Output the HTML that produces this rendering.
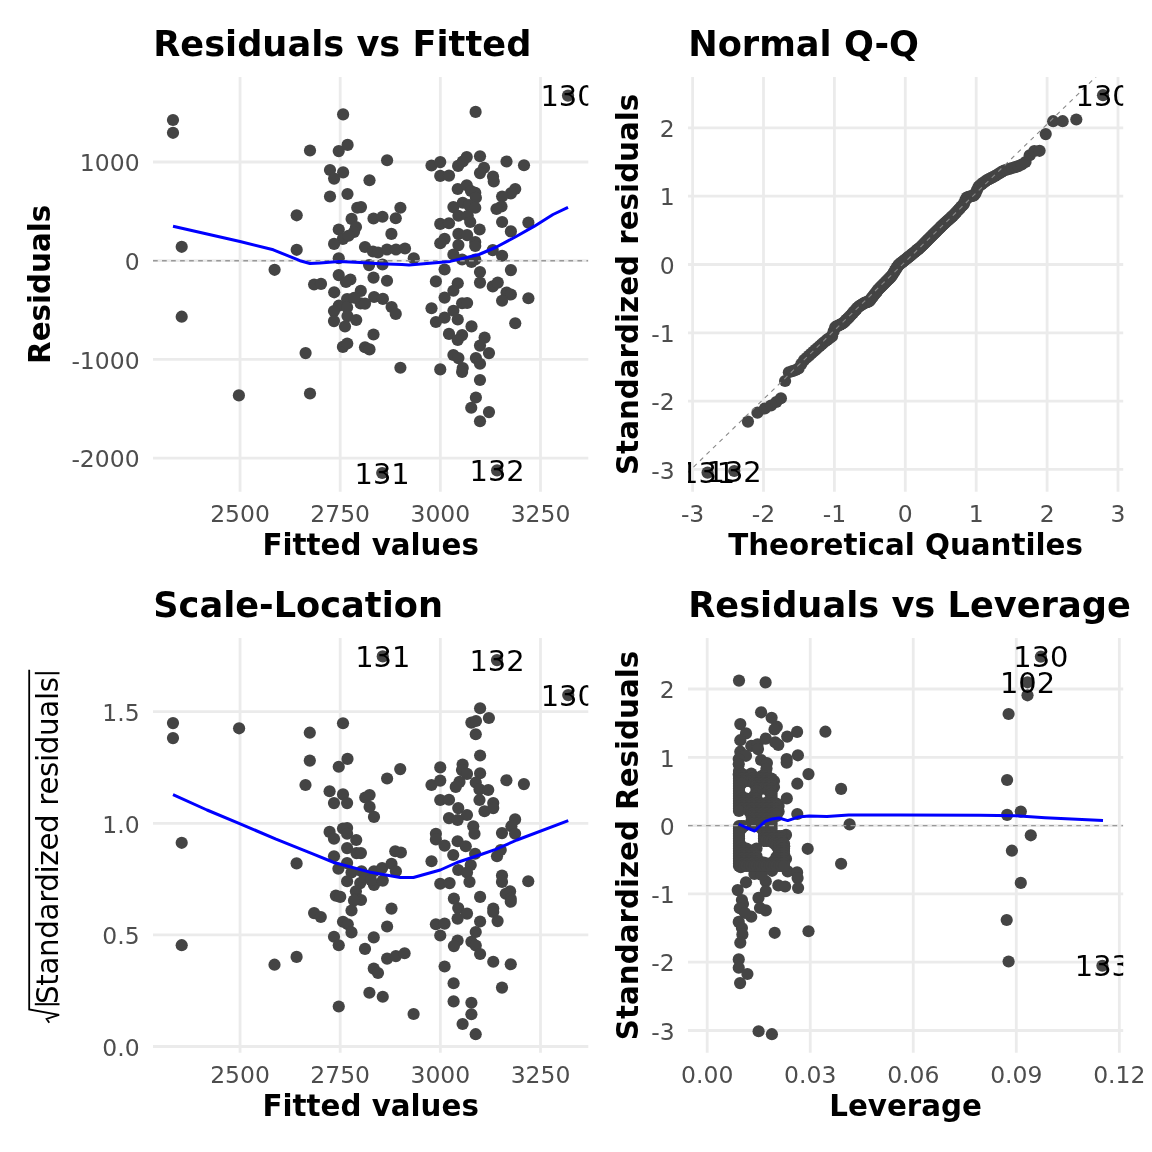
<!DOCTYPE html><html><head><meta charset="utf-8"><style>html,body{margin:0;padding:0;background:#fff}svg{display:block}</style></head><body><svg width="1152" height="1152" viewBox="0 0 1152 1152"><rect width="1152" height="1152" fill="#fff"/><clipPath id="c1"><rect x="153.0" y="77.0" width="435.29999999999995" height="414.7"/></clipPath>
<line x1="240.05" y1="77.0" x2="240.05" y2="491.7" stroke="#ebebeb" stroke-width="2.8"/>
<line x1="340.20" y1="77.0" x2="340.20" y2="491.7" stroke="#ebebeb" stroke-width="2.8"/>
<line x1="440.35" y1="77.0" x2="440.35" y2="491.7" stroke="#ebebeb" stroke-width="2.8"/>
<line x1="540.50" y1="77.0" x2="540.50" y2="491.7" stroke="#ebebeb" stroke-width="2.8"/>
<line x1="153.0" y1="162.00" x2="588.3" y2="162.00" stroke="#ebebeb" stroke-width="2.8"/>
<line x1="153.0" y1="260.70" x2="588.3" y2="260.70" stroke="#ebebeb" stroke-width="2.8"/>
<line x1="153.0" y1="359.40" x2="588.3" y2="359.40" stroke="#ebebeb" stroke-width="2.8"/>
<line x1="153.0" y1="458.10" x2="588.3" y2="458.10" stroke="#ebebeb" stroke-width="2.8"/>
<text x="240.05" y="521.90" font-family="DejaVu Sans, sans-serif" font-size="23.47" fill="#4d4d4d" text-anchor="middle">2500</text>
<text x="340.20" y="521.90" font-family="DejaVu Sans, sans-serif" font-size="23.47" fill="#4d4d4d" text-anchor="middle">2750</text>
<text x="440.35" y="521.90" font-family="DejaVu Sans, sans-serif" font-size="23.47" fill="#4d4d4d" text-anchor="middle">3000</text>
<text x="540.50" y="521.90" font-family="DejaVu Sans, sans-serif" font-size="23.47" fill="#4d4d4d" text-anchor="middle">3250</text>
<text x="139.60" y="171.20" font-family="DejaVu Sans, sans-serif" font-size="23.47" fill="#4d4d4d" text-anchor="end">1000</text>
<text x="139.60" y="269.90" font-family="DejaVu Sans, sans-serif" font-size="23.47" fill="#4d4d4d" text-anchor="end">0</text>
<text x="139.60" y="368.60" font-family="DejaVu Sans, sans-serif" font-size="23.47" fill="#4d4d4d" text-anchor="end">-1000</text>
<text x="139.60" y="467.30" font-family="DejaVu Sans, sans-serif" font-size="23.47" fill="#4d4d4d" text-anchor="end">-2000</text>
<text x="153.20" y="55.80" font-family="DejaVu Sans, sans-serif" font-weight="bold" font-size="35.2">Residuals vs Fitted</text>
<text x="370.65" y="555.00" font-family="DejaVu Sans, sans-serif" font-weight="bold" font-size="29.33" text-anchor="middle">Fitted values</text>
<text transform="translate(50.20,284.35) rotate(-90)" font-family="DejaVu Sans, sans-serif" font-weight="bold" font-size="29.33" text-anchor="middle">Residuals</text>
<g clip-path="url(#c1)" fill="#444444">
<circle cx="173.00" cy="120.00" r="6.1"/>
<circle cx="173.00" cy="132.80" r="6.1"/>
<circle cx="181.70" cy="246.80" r="6.1"/>
<circle cx="274.60" cy="269.80" r="6.1"/>
<circle cx="296.70" cy="215.30" r="6.1"/>
<circle cx="296.70" cy="249.80" r="6.1"/>
<circle cx="343.10" cy="114.40" r="6.1"/>
<circle cx="310.00" cy="150.50" r="6.1"/>
<circle cx="338.75" cy="151.10" r="6.1"/>
<circle cx="347.60" cy="144.90" r="6.1"/>
<circle cx="387.10" cy="160.25" r="6.1"/>
<circle cx="330.00" cy="170.00" r="6.1"/>
<circle cx="343.10" cy="172.40" r="6.1"/>
<circle cx="334.10" cy="178.60" r="6.1"/>
<circle cx="369.50" cy="180.25" r="6.1"/>
<circle cx="330.00" cy="196.50" r="6.1"/>
<circle cx="347.50" cy="194.00" r="6.1"/>
<circle cx="357.25" cy="207.75" r="6.1"/>
<circle cx="361.00" cy="207.10" r="6.1"/>
<circle cx="400.40" cy="207.75" r="6.1"/>
<circle cx="351.60" cy="218.90" r="6.1"/>
<circle cx="356.00" cy="227.00" r="6.1"/>
<circle cx="354.00" cy="232.00" r="6.1"/>
<circle cx="338.75" cy="229.50" r="6.1"/>
<circle cx="342.90" cy="238.90" r="6.1"/>
<circle cx="334.10" cy="243.90" r="6.1"/>
<circle cx="373.50" cy="218.50" r="6.1"/>
<circle cx="382.50" cy="216.75" r="6.1"/>
<circle cx="395.75" cy="218.25" r="6.1"/>
<circle cx="391.40" cy="233.90" r="6.1"/>
<circle cx="365.00" cy="247.00" r="6.1"/>
<circle cx="373.00" cy="251.50" r="6.1"/>
<circle cx="378.00" cy="252.50" r="6.1"/>
<circle cx="387.00" cy="249.50" r="6.1"/>
<circle cx="396.00" cy="249.50" r="6.1"/>
<circle cx="405.00" cy="248.50" r="6.1"/>
<circle cx="413.75" cy="258.25" r="6.1"/>
<circle cx="338.75" cy="258.25" r="6.1"/>
<circle cx="369.10" cy="265.10" r="6.1"/>
<circle cx="382.50" cy="264.50" r="6.1"/>
<circle cx="338.75" cy="275.10" r="6.1"/>
<circle cx="350.40" cy="279.50" r="6.1"/>
<circle cx="346.00" cy="282.00" r="6.1"/>
<circle cx="314.10" cy="284.50" r="6.1"/>
<circle cx="321.00" cy="283.90" r="6.1"/>
<circle cx="373.50" cy="277.60" r="6.1"/>
<circle cx="387.00" cy="280.75" r="6.1"/>
<circle cx="334.20" cy="292.30" r="6.1"/>
<circle cx="360.80" cy="290.90" r="6.1"/>
<circle cx="374.10" cy="297.00" r="6.1"/>
<circle cx="382.90" cy="298.90" r="6.1"/>
<circle cx="391.60" cy="307.00" r="6.1"/>
<circle cx="395.75" cy="313.90" r="6.1"/>
<circle cx="347.10" cy="299.00" r="6.1"/>
<circle cx="338.75" cy="305.70" r="6.1"/>
<circle cx="334.00" cy="311.00" r="6.1"/>
<circle cx="347.10" cy="307.30" r="6.1"/>
<circle cx="360.60" cy="303.40" r="6.1"/>
<circle cx="365.00" cy="303.60" r="6.1"/>
<circle cx="347.50" cy="316.10" r="6.1"/>
<circle cx="334.00" cy="321.10" r="6.1"/>
<circle cx="356.25" cy="320.00" r="6.1"/>
<circle cx="345.00" cy="326.50" r="6.1"/>
<circle cx="373.50" cy="334.50" r="6.1"/>
<circle cx="305.60" cy="353.10" r="6.1"/>
<circle cx="342.90" cy="346.90" r="6.1"/>
<circle cx="347.25" cy="343.50" r="6.1"/>
<circle cx="365.00" cy="347.25" r="6.1"/>
<circle cx="369.50" cy="349.40" r="6.1"/>
<circle cx="400.40" cy="367.75" r="6.1"/>
<circle cx="310.00" cy="393.50" r="6.1"/>
<circle cx="475.60" cy="111.90" r="6.1"/>
<circle cx="431.50" cy="165.50" r="6.1"/>
<circle cx="440.25" cy="162.10" r="6.1"/>
<circle cx="440.25" cy="175.90" r="6.1"/>
<circle cx="449.00" cy="175.60" r="6.1"/>
<circle cx="458.10" cy="165.90" r="6.1"/>
<circle cx="462.75" cy="161.50" r="6.1"/>
<circle cx="466.75" cy="157.10" r="6.1"/>
<circle cx="480.00" cy="156.25" r="6.1"/>
<circle cx="484.00" cy="167.75" r="6.1"/>
<circle cx="480.00" cy="173.10" r="6.1"/>
<circle cx="493.00" cy="176.50" r="6.1"/>
<circle cx="493.75" cy="181.50" r="6.1"/>
<circle cx="506.50" cy="161.50" r="6.1"/>
<circle cx="524.00" cy="165.25" r="6.1"/>
<circle cx="457.75" cy="189.00" r="6.1"/>
<circle cx="466.75" cy="185.25" r="6.1"/>
<circle cx="471.00" cy="191.00" r="6.1"/>
<circle cx="475.25" cy="192.75" r="6.1"/>
<circle cx="475.90" cy="197.75" r="6.1"/>
<circle cx="515.25" cy="189.00" r="6.1"/>
<circle cx="510.90" cy="193.40" r="6.1"/>
<circle cx="502.10" cy="196.50" r="6.1"/>
<circle cx="501.50" cy="206.50" r="6.1"/>
<circle cx="496.50" cy="209.00" r="6.1"/>
<circle cx="453.40" cy="207.10" r="6.1"/>
<circle cx="462.75" cy="202.75" r="6.1"/>
<circle cx="469.00" cy="205.00" r="6.1"/>
<circle cx="475.25" cy="207.75" r="6.1"/>
<circle cx="458.40" cy="215.75" r="6.1"/>
<circle cx="467.75" cy="215.75" r="6.1"/>
<circle cx="470.25" cy="222.00" r="6.1"/>
<circle cx="440.25" cy="223.90" r="6.1"/>
<circle cx="449.00" cy="223.25" r="6.1"/>
<circle cx="479.60" cy="229.50" r="6.1"/>
<circle cx="502.10" cy="222.00" r="6.1"/>
<circle cx="510.90" cy="231.40" r="6.1"/>
<circle cx="528.40" cy="222.60" r="6.1"/>
<circle cx="444.60" cy="238.90" r="6.1"/>
<circle cx="440.25" cy="243.25" r="6.1"/>
<circle cx="458.40" cy="233.90" r="6.1"/>
<circle cx="467.10" cy="235.10" r="6.1"/>
<circle cx="475.25" cy="242.00" r="6.1"/>
<circle cx="458.40" cy="245.10" r="6.1"/>
<circle cx="453.40" cy="254.50" r="6.1"/>
<circle cx="462.10" cy="259.50" r="6.1"/>
<circle cx="471.50" cy="262.00" r="6.1"/>
<circle cx="475.25" cy="259.50" r="6.1"/>
<circle cx="492.75" cy="250.10" r="6.1"/>
<circle cx="502.10" cy="255.75" r="6.1"/>
<circle cx="444.60" cy="269.50" r="6.1"/>
<circle cx="480.00" cy="272.00" r="6.1"/>
<circle cx="480.00" cy="282.60" r="6.1"/>
<circle cx="510.90" cy="270.10" r="6.1"/>
<circle cx="435.90" cy="281.40" r="6.1"/>
<circle cx="457.75" cy="283.25" r="6.1"/>
<circle cx="453.40" cy="290.75" r="6.1"/>
<circle cx="444.60" cy="297.60" r="6.1"/>
<circle cx="431.50" cy="308.25" r="6.1"/>
<circle cx="492.75" cy="286.40" r="6.1"/>
<circle cx="497.75" cy="282.60" r="6.1"/>
<circle cx="506.50" cy="292.60" r="6.1"/>
<circle cx="510.90" cy="294.50" r="6.1"/>
<circle cx="502.10" cy="300.75" r="6.1"/>
<circle cx="528.40" cy="298.25" r="6.1"/>
<circle cx="462.10" cy="303.25" r="6.1"/>
<circle cx="467.10" cy="303.00" r="6.1"/>
<circle cx="453.40" cy="310.75" r="6.1"/>
<circle cx="444.60" cy="317.60" r="6.1"/>
<circle cx="435.90" cy="322.00" r="6.1"/>
<circle cx="457.75" cy="319.50" r="6.1"/>
<circle cx="471.50" cy="326.40" r="6.1"/>
<circle cx="515.25" cy="323.25" r="6.1"/>
<circle cx="449.00" cy="333.90" r="6.1"/>
<circle cx="462.10" cy="335.10" r="6.1"/>
<circle cx="484.60" cy="337.60" r="6.1"/>
<circle cx="457.75" cy="340.00" r="6.1"/>
<circle cx="480.00" cy="345.60" r="6.1"/>
<circle cx="489.00" cy="353.10" r="6.1"/>
<circle cx="453.40" cy="355.00" r="6.1"/>
<circle cx="458.40" cy="358.10" r="6.1"/>
<circle cx="475.90" cy="358.10" r="6.1"/>
<circle cx="480.00" cy="363.75" r="6.1"/>
<circle cx="440.25" cy="369.40" r="6.1"/>
<circle cx="462.75" cy="368.10" r="6.1"/>
<circle cx="462.10" cy="371.90" r="6.1"/>
<circle cx="480.00" cy="380.00" r="6.1"/>
<circle cx="475.90" cy="397.50" r="6.1"/>
<circle cx="471.25" cy="407.75" r="6.1"/>
<circle cx="489.00" cy="412.10" r="6.1"/>
<circle cx="480.00" cy="421.25" r="6.1"/>
<circle cx="568.00" cy="95.60" r="6.1"/>
<circle cx="181.70" cy="316.70" r="6.1"/>
<circle cx="238.90" cy="395.40" r="6.1"/>
<circle cx="382.20" cy="473.00" r="6.1"/>
<circle cx="497.10" cy="470.40" r="6.1"/>
<circle cx="354.20" cy="297.75" r="6.1"/>
<circle cx="348.50" cy="235.75" r="6.1"/>
<circle cx="475.25" cy="246.00" r="6.1"/>
</g>
<line clip-path="url(#c1)" x1="153.00" y1="260.70" x2="588.30" y2="260.70" stroke="#999999" stroke-width="1.4" stroke-dasharray="4.7 4.33" stroke-dashoffset="0"/>
<polyline clip-path="url(#c1)" points="173.00,226.20 240.00,241.50 273.30,249.80 300.00,260.70 310.00,263.50 320.00,263.00 339.00,261.40 360.00,262.50 380.00,263.80 402.00,264.50 409.00,265.10 450.25,261.40 479.00,254.50 496.50,247.00 515.25,237.00 534.00,226.40 553.00,214.50 568.00,207.30" fill="none" stroke="#0000ff" stroke-width="3.0" stroke-linejoin="round"/>
<g clip-path="url(#c1)">
<text x="568.00" y="106.10" font-family="DejaVu Sans, sans-serif" font-size="28.9" text-anchor="middle">130</text>
<text x="382.20" y="483.50" font-family="DejaVu Sans, sans-serif" font-size="28.9" text-anchor="middle">131</text>
<text x="497.10" y="480.90" font-family="DejaVu Sans, sans-serif" font-size="28.9" text-anchor="middle">132</text>
</g>
<clipPath id="c2"><rect x="688.0" y="77.0" width="435.20000000000005" height="414.7"/></clipPath>
<line x1="692.60" y1="77.0" x2="692.60" y2="491.7" stroke="#ebebeb" stroke-width="2.8"/>
<line x1="763.50" y1="77.0" x2="763.50" y2="491.7" stroke="#ebebeb" stroke-width="2.8"/>
<line x1="834.40" y1="77.0" x2="834.40" y2="491.7" stroke="#ebebeb" stroke-width="2.8"/>
<line x1="905.30" y1="77.0" x2="905.30" y2="491.7" stroke="#ebebeb" stroke-width="2.8"/>
<line x1="976.20" y1="77.0" x2="976.20" y2="491.7" stroke="#ebebeb" stroke-width="2.8"/>
<line x1="1047.10" y1="77.0" x2="1047.10" y2="491.7" stroke="#ebebeb" stroke-width="2.8"/>
<line x1="1118.00" y1="77.0" x2="1118.00" y2="491.7" stroke="#ebebeb" stroke-width="2.8"/>
<line x1="688.0" y1="127.90" x2="1123.2" y2="127.90" stroke="#ebebeb" stroke-width="2.8"/>
<line x1="688.0" y1="196.20" x2="1123.2" y2="196.20" stroke="#ebebeb" stroke-width="2.8"/>
<line x1="688.0" y1="264.50" x2="1123.2" y2="264.50" stroke="#ebebeb" stroke-width="2.8"/>
<line x1="688.0" y1="332.80" x2="1123.2" y2="332.80" stroke="#ebebeb" stroke-width="2.8"/>
<line x1="688.0" y1="401.10" x2="1123.2" y2="401.10" stroke="#ebebeb" stroke-width="2.8"/>
<line x1="688.0" y1="469.40" x2="1123.2" y2="469.40" stroke="#ebebeb" stroke-width="2.8"/>
<text x="692.60" y="521.90" font-family="DejaVu Sans, sans-serif" font-size="23.47" fill="#4d4d4d" text-anchor="middle">-3</text>
<text x="763.50" y="521.90" font-family="DejaVu Sans, sans-serif" font-size="23.47" fill="#4d4d4d" text-anchor="middle">-2</text>
<text x="834.40" y="521.90" font-family="DejaVu Sans, sans-serif" font-size="23.47" fill="#4d4d4d" text-anchor="middle">-1</text>
<text x="905.30" y="521.90" font-family="DejaVu Sans, sans-serif" font-size="23.47" fill="#4d4d4d" text-anchor="middle">0</text>
<text x="976.20" y="521.90" font-family="DejaVu Sans, sans-serif" font-size="23.47" fill="#4d4d4d" text-anchor="middle">1</text>
<text x="1047.10" y="521.90" font-family="DejaVu Sans, sans-serif" font-size="23.47" fill="#4d4d4d" text-anchor="middle">2</text>
<text x="1118.00" y="521.90" font-family="DejaVu Sans, sans-serif" font-size="23.47" fill="#4d4d4d" text-anchor="middle">3</text>
<text x="674.60" y="137.10" font-family="DejaVu Sans, sans-serif" font-size="23.47" fill="#4d4d4d" text-anchor="end">2</text>
<text x="674.60" y="205.40" font-family="DejaVu Sans, sans-serif" font-size="23.47" fill="#4d4d4d" text-anchor="end">1</text>
<text x="674.60" y="273.70" font-family="DejaVu Sans, sans-serif" font-size="23.47" fill="#4d4d4d" text-anchor="end">0</text>
<text x="674.60" y="342.00" font-family="DejaVu Sans, sans-serif" font-size="23.47" fill="#4d4d4d" text-anchor="end">-1</text>
<text x="674.60" y="410.30" font-family="DejaVu Sans, sans-serif" font-size="23.47" fill="#4d4d4d" text-anchor="end">-2</text>
<text x="674.60" y="478.60" font-family="DejaVu Sans, sans-serif" font-size="23.47" fill="#4d4d4d" text-anchor="end">-3</text>
<text x="688.20" y="55.80" font-family="DejaVu Sans, sans-serif" font-weight="bold" font-size="35.2">Normal Q-Q</text>
<text x="905.60" y="555.00" font-family="DejaVu Sans, sans-serif" font-weight="bold" font-size="29.33" text-anchor="middle">Theoretical Quantiles</text>
<text transform="translate(637.80,284.35) rotate(-90)" font-family="DejaVu Sans, sans-serif" font-weight="bold" font-size="29.33" text-anchor="middle">Standardized residuals</text>
<g clip-path="url(#c2)" fill="#444444">
<circle cx="707.58" cy="472.60" r="6.1"/>
<circle cx="734.30" cy="471.00" r="6.1"/>
<circle cx="747.94" cy="421.60" r="6.1"/>
<circle cx="757.45" cy="412.70" r="6.1"/>
<circle cx="764.86" cy="408.50" r="6.1"/>
<circle cx="771.00" cy="405.50" r="6.1"/>
<circle cx="776.27" cy="402.00" r="6.1"/>
<circle cx="780.91" cy="398.30" r="6.1"/>
<circle cx="785.08" cy="381.00" r="6.1"/>
<circle cx="788.86" cy="372.26" r="6.1"/>
<circle cx="792.34" cy="371.11" r="6.1"/>
<circle cx="795.57" cy="370.04" r="6.1"/>
<circle cx="798.58" cy="368.42" r="6.1"/>
<circle cx="801.41" cy="363.85" r="6.1"/>
<circle cx="804.09" cy="360.08" r="6.1"/>
<circle cx="806.63" cy="357.79" r="6.1"/>
<circle cx="809.05" cy="355.60" r="6.1"/>
<circle cx="811.36" cy="353.51" r="6.1"/>
<circle cx="813.58" cy="351.51" r="6.1"/>
<circle cx="815.71" cy="349.60" r="6.1"/>
<circle cx="817.76" cy="347.79" r="6.1"/>
<circle cx="819.74" cy="346.04" r="6.1"/>
<circle cx="821.65" cy="344.35" r="6.1"/>
<circle cx="823.51" cy="342.71" r="6.1"/>
<circle cx="825.31" cy="341.25" r="6.1"/>
<circle cx="827.07" cy="339.92" r="6.1"/>
<circle cx="828.77" cy="338.63" r="6.1"/>
<circle cx="830.44" cy="337.37" r="6.1"/>
<circle cx="832.06" cy="336.14" r="6.1"/>
<circle cx="833.64" cy="331.28" r="6.1"/>
<circle cx="835.19" cy="327.20" r="6.1"/>
<circle cx="836.71" cy="326.43" r="6.1"/>
<circle cx="838.20" cy="325.68" r="6.1"/>
<circle cx="839.65" cy="324.94" r="6.1"/>
<circle cx="841.08" cy="324.22" r="6.1"/>
<circle cx="842.49" cy="323.51" r="6.1"/>
<circle cx="843.87" cy="322.33" r="6.1"/>
<circle cx="845.23" cy="320.97" r="6.1"/>
<circle cx="846.56" cy="319.64" r="6.1"/>
<circle cx="847.88" cy="318.32" r="6.1"/>
<circle cx="849.17" cy="317.03" r="6.1"/>
<circle cx="850.45" cy="315.72" r="6.1"/>
<circle cx="851.71" cy="314.31" r="6.1"/>
<circle cx="852.95" cy="312.92" r="6.1"/>
<circle cx="854.18" cy="311.54" r="6.1"/>
<circle cx="855.39" cy="310.18" r="6.1"/>
<circle cx="856.59" cy="308.84" r="6.1"/>
<circle cx="857.77" cy="307.51" r="6.1"/>
<circle cx="858.94" cy="306.42" r="6.1"/>
<circle cx="860.10" cy="305.70" r="6.1"/>
<circle cx="861.25" cy="304.98" r="6.1"/>
<circle cx="862.38" cy="304.27" r="6.1"/>
<circle cx="863.51" cy="303.56" r="6.1"/>
<circle cx="864.62" cy="302.86" r="6.1"/>
<circle cx="865.72" cy="302.36" r="6.1"/>
<circle cx="866.82" cy="302.07" r="6.1"/>
<circle cx="867.90" cy="301.79" r="6.1"/>
<circle cx="868.98" cy="301.51" r="6.1"/>
<circle cx="870.05" cy="300.16" r="6.1"/>
<circle cx="871.11" cy="298.80" r="6.1"/>
<circle cx="872.16" cy="297.45" r="6.1"/>
<circle cx="873.21" cy="296.11" r="6.1"/>
<circle cx="874.24" cy="294.78" r="6.1"/>
<circle cx="875.28" cy="293.45" r="6.1"/>
<circle cx="876.30" cy="292.14" r="6.1"/>
<circle cx="877.32" cy="290.83" r="6.1"/>
<circle cx="878.33" cy="289.53" r="6.1"/>
<circle cx="879.34" cy="288.41" r="6.1"/>
<circle cx="880.35" cy="287.40" r="6.1"/>
<circle cx="881.34" cy="286.41" r="6.1"/>
<circle cx="882.34" cy="285.41" r="6.1"/>
<circle cx="883.33" cy="284.42" r="6.1"/>
<circle cx="884.31" cy="283.44" r="6.1"/>
<circle cx="885.29" cy="282.46" r="6.1"/>
<circle cx="886.27" cy="281.48" r="6.1"/>
<circle cx="887.24" cy="280.51" r="6.1"/>
<circle cx="888.21" cy="279.54" r="6.1"/>
<circle cx="889.18" cy="278.57" r="6.1"/>
<circle cx="890.14" cy="277.61" r="6.1"/>
<circle cx="891.10" cy="276.65" r="6.1"/>
<circle cx="892.06" cy="275.22" r="6.1"/>
<circle cx="893.01" cy="273.70" r="6.1"/>
<circle cx="893.97" cy="272.19" r="6.1"/>
<circle cx="894.92" cy="270.68" r="6.1"/>
<circle cx="895.87" cy="269.17" r="6.1"/>
<circle cx="896.82" cy="267.67" r="6.1"/>
<circle cx="897.76" cy="266.17" r="6.1"/>
<circle cx="898.71" cy="264.84" r="6.1"/>
<circle cx="899.65" cy="264.09" r="6.1"/>
<circle cx="900.59" cy="263.34" r="6.1"/>
<circle cx="901.54" cy="262.60" r="6.1"/>
<circle cx="902.48" cy="261.86" r="6.1"/>
<circle cx="903.42" cy="261.11" r="6.1"/>
<circle cx="904.36" cy="260.37" r="6.1"/>
<circle cx="905.30" cy="259.62" r="6.1"/>
<circle cx="906.24" cy="258.88" r="6.1"/>
<circle cx="907.18" cy="258.14" r="6.1"/>
<circle cx="908.12" cy="257.39" r="6.1"/>
<circle cx="909.06" cy="256.65" r="6.1"/>
<circle cx="910.01" cy="255.87" r="6.1"/>
<circle cx="910.95" cy="255.09" r="6.1"/>
<circle cx="911.89" cy="254.32" r="6.1"/>
<circle cx="912.84" cy="253.54" r="6.1"/>
<circle cx="913.78" cy="252.76" r="6.1"/>
<circle cx="914.73" cy="251.97" r="6.1"/>
<circle cx="915.68" cy="251.19" r="6.1"/>
<circle cx="916.63" cy="250.41" r="6.1"/>
<circle cx="917.59" cy="249.62" r="6.1"/>
<circle cx="918.54" cy="248.83" r="6.1"/>
<circle cx="919.50" cy="248.04" r="6.1"/>
<circle cx="920.46" cy="247.24" r="6.1"/>
<circle cx="921.42" cy="246.28" r="6.1"/>
<circle cx="922.39" cy="245.31" r="6.1"/>
<circle cx="923.36" cy="244.34" r="6.1"/>
<circle cx="924.33" cy="243.37" r="6.1"/>
<circle cx="925.31" cy="242.39" r="6.1"/>
<circle cx="926.29" cy="241.41" r="6.1"/>
<circle cx="927.27" cy="240.43" r="6.1"/>
<circle cx="928.26" cy="239.44" r="6.1"/>
<circle cx="929.26" cy="238.44" r="6.1"/>
<circle cx="930.25" cy="237.45" r="6.1"/>
<circle cx="931.26" cy="236.44" r="6.1"/>
<circle cx="932.27" cy="235.43" r="6.1"/>
<circle cx="933.28" cy="234.42" r="6.1"/>
<circle cx="934.30" cy="233.40" r="6.1"/>
<circle cx="935.32" cy="232.38" r="6.1"/>
<circle cx="936.36" cy="231.34" r="6.1"/>
<circle cx="937.39" cy="230.31" r="6.1"/>
<circle cx="938.44" cy="229.26" r="6.1"/>
<circle cx="939.49" cy="228.21" r="6.1"/>
<circle cx="940.55" cy="227.15" r="6.1"/>
<circle cx="941.62" cy="226.08" r="6.1"/>
<circle cx="942.70" cy="225.04" r="6.1"/>
<circle cx="943.78" cy="224.05" r="6.1"/>
<circle cx="944.88" cy="223.06" r="6.1"/>
<circle cx="945.98" cy="222.06" r="6.1"/>
<circle cx="947.09" cy="221.05" r="6.1"/>
<circle cx="948.22" cy="220.03" r="6.1"/>
<circle cx="949.35" cy="219.00" r="6.1"/>
<circle cx="950.50" cy="217.95" r="6.1"/>
<circle cx="951.66" cy="216.90" r="6.1"/>
<circle cx="952.83" cy="215.84" r="6.1"/>
<circle cx="954.01" cy="214.71" r="6.1"/>
<circle cx="955.21" cy="213.40" r="6.1"/>
<circle cx="956.42" cy="212.06" r="6.1"/>
<circle cx="957.65" cy="210.71" r="6.1"/>
<circle cx="958.89" cy="209.34" r="6.1"/>
<circle cx="960.15" cy="207.96" r="6.1"/>
<circle cx="961.43" cy="206.55" r="6.1"/>
<circle cx="962.72" cy="205.13" r="6.1"/>
<circle cx="964.04" cy="203.68" r="6.1"/>
<circle cx="965.37" cy="200.18" r="6.1"/>
<circle cx="966.73" cy="197.56" r="6.1"/>
<circle cx="968.11" cy="197.14" r="6.1"/>
<circle cx="969.52" cy="196.72" r="6.1"/>
<circle cx="970.95" cy="196.29" r="6.1"/>
<circle cx="972.40" cy="195.86" r="6.1"/>
<circle cx="973.89" cy="195.41" r="6.1"/>
<circle cx="975.41" cy="193.46" r="6.1"/>
<circle cx="976.96" cy="190.12" r="6.1"/>
<circle cx="978.54" cy="186.70" r="6.1"/>
<circle cx="980.16" cy="185.19" r="6.1"/>
<circle cx="981.83" cy="183.95" r="6.1"/>
<circle cx="983.53" cy="182.67" r="6.1"/>
<circle cx="985.29" cy="181.36" r="6.1"/>
<circle cx="987.09" cy="180.01" r="6.1"/>
<circle cx="988.95" cy="179.07" r="6.1"/>
<circle cx="990.86" cy="178.10" r="6.1"/>
<circle cx="992.84" cy="177.09" r="6.1"/>
<circle cx="994.89" cy="176.06" r="6.1"/>
<circle cx="997.02" cy="174.79" r="6.1"/>
<circle cx="999.24" cy="173.41" r="6.1"/>
<circle cx="1001.55" cy="171.97" r="6.1"/>
<circle cx="1003.97" cy="170.53" r="6.1"/>
<circle cx="1006.51" cy="169.74" r="6.1"/>
<circle cx="1009.19" cy="168.91" r="6.1"/>
<circle cx="1012.02" cy="168.03" r="6.1"/>
<circle cx="1015.03" cy="167.08" r="6.1"/>
<circle cx="1018.26" cy="166.07" r="6.1"/>
<circle cx="1021.74" cy="164.52" r="6.1"/>
<circle cx="1025.52" cy="162.03" r="6.1"/>
<circle cx="1029.69" cy="155.23" r="6.1"/>
<circle cx="1034.33" cy="151.00" r="6.1"/>
<circle cx="1039.60" cy="150.80" r="6.1"/>
<circle cx="1045.74" cy="134.10" r="6.1"/>
<circle cx="1053.15" cy="121.20" r="6.1"/>
<circle cx="1062.66" cy="121.20" r="6.1"/>
<circle cx="1076.30" cy="119.50" r="6.1"/>
<circle cx="1103.02" cy="95.20" r="6.1"/>
</g>
<line clip-path="url(#c2)" x1="688.00" y1="472.38" x2="1123.20" y2="50.37" stroke="#888888" stroke-width="1.1" stroke-dasharray="4.4 4.63" stroke-dashoffset="1.34"/>
<g clip-path="url(#c2)">
<text x="1103.10" y="105.70" font-family="DejaVu Sans, sans-serif" font-size="28.9" text-anchor="middle">130</text>
<text x="707.60" y="483.10" font-family="DejaVu Sans, sans-serif" font-size="28.9" text-anchor="middle">131</text>
<text x="734.20" y="481.50" font-family="DejaVu Sans, sans-serif" font-size="28.9" text-anchor="middle">132</text>
</g>
<clipPath id="c3"><rect x="153.0" y="638.1" width="435.29999999999995" height="414.69999999999993"/></clipPath>
<line x1="240.05" y1="638.1" x2="240.05" y2="1052.8" stroke="#ebebeb" stroke-width="2.8"/>
<line x1="340.20" y1="638.1" x2="340.20" y2="1052.8" stroke="#ebebeb" stroke-width="2.8"/>
<line x1="440.35" y1="638.1" x2="440.35" y2="1052.8" stroke="#ebebeb" stroke-width="2.8"/>
<line x1="540.50" y1="638.1" x2="540.50" y2="1052.8" stroke="#ebebeb" stroke-width="2.8"/>
<line x1="153.0" y1="1046.50" x2="588.3" y2="1046.50" stroke="#ebebeb" stroke-width="2.8"/>
<line x1="153.0" y1="934.90" x2="588.3" y2="934.90" stroke="#ebebeb" stroke-width="2.8"/>
<line x1="153.0" y1="823.30" x2="588.3" y2="823.30" stroke="#ebebeb" stroke-width="2.8"/>
<line x1="153.0" y1="711.70" x2="588.3" y2="711.70" stroke="#ebebeb" stroke-width="2.8"/>
<text x="240.05" y="1083.00" font-family="DejaVu Sans, sans-serif" font-size="23.47" fill="#4d4d4d" text-anchor="middle">2500</text>
<text x="340.20" y="1083.00" font-family="DejaVu Sans, sans-serif" font-size="23.47" fill="#4d4d4d" text-anchor="middle">2750</text>
<text x="440.35" y="1083.00" font-family="DejaVu Sans, sans-serif" font-size="23.47" fill="#4d4d4d" text-anchor="middle">3000</text>
<text x="540.50" y="1083.00" font-family="DejaVu Sans, sans-serif" font-size="23.47" fill="#4d4d4d" text-anchor="middle">3250</text>
<text x="139.60" y="1055.70" font-family="DejaVu Sans, sans-serif" font-size="23.47" fill="#4d4d4d" text-anchor="end">0.0</text>
<text x="139.60" y="944.10" font-family="DejaVu Sans, sans-serif" font-size="23.47" fill="#4d4d4d" text-anchor="end">0.5</text>
<text x="139.60" y="832.50" font-family="DejaVu Sans, sans-serif" font-size="23.47" fill="#4d4d4d" text-anchor="end">1.0</text>
<text x="139.60" y="720.90" font-family="DejaVu Sans, sans-serif" font-size="23.47" fill="#4d4d4d" text-anchor="end">1.5</text>
<text x="153.20" y="616.90" font-family="DejaVu Sans, sans-serif" font-weight="bold" font-size="35.2">Scale-Location</text>
<text x="370.65" y="1116.10" font-family="DejaVu Sans, sans-serif" font-weight="bold" font-size="29.33" text-anchor="middle">Fitted values</text>
<text transform="translate(58.3,1004.0) rotate(-90)" font-family="DejaVu Sans, sans-serif" font-size="29.33" textLength="327" lengthAdjust="spacing">Standardized residuals</text><path d="M49.3,1022.7 L46.6,1018.9 L59.1,1014.8 L29.2,1009.4 L29.2,669.8" fill="none" stroke="#000" stroke-width="1.8" stroke-linejoin="miter"/><line x1="34.8" y1="1004.2" x2="59.5" y2="1004.2" stroke="#000" stroke-width="2"/><line x1="34.8" y1="673.2" x2="59.5" y2="673.2" stroke="#000" stroke-width="2"/>
<g clip-path="url(#c3)" fill="#444444">
<circle cx="173.00" cy="723.10" r="6.1"/>
<circle cx="173.00" cy="738.10" r="6.1"/>
<circle cx="239.10" cy="728.30" r="6.1"/>
<circle cx="309.80" cy="732.70" r="6.1"/>
<circle cx="309.80" cy="760.60" r="6.1"/>
<circle cx="305.50" cy="785.00" r="6.1"/>
<circle cx="181.70" cy="842.80" r="6.1"/>
<circle cx="181.70" cy="945.20" r="6.1"/>
<circle cx="296.60" cy="863.40" r="6.1"/>
<circle cx="274.50" cy="964.70" r="6.1"/>
<circle cx="296.60" cy="956.90" r="6.1"/>
<circle cx="314.10" cy="913.10" r="6.1"/>
<circle cx="320.80" cy="917.00" r="6.1"/>
<circle cx="382.75" cy="656.40" r="6.1"/>
<circle cx="343.00" cy="723.25" r="6.1"/>
<circle cx="347.50" cy="758.90" r="6.1"/>
<circle cx="338.75" cy="766.75" r="6.1"/>
<circle cx="400.25" cy="769.10" r="6.1"/>
<circle cx="440.25" cy="767.40" r="6.1"/>
<circle cx="387.10" cy="778.50" r="6.1"/>
<circle cx="329.60" cy="791.25" r="6.1"/>
<circle cx="343.00" cy="794.40" r="6.1"/>
<circle cx="334.00" cy="803.10" r="6.1"/>
<circle cx="347.10" cy="803.10" r="6.1"/>
<circle cx="365.25" cy="797.50" r="6.1"/>
<circle cx="369.60" cy="795.00" r="6.1"/>
<circle cx="369.60" cy="806.90" r="6.1"/>
<circle cx="374.00" cy="816.90" r="6.1"/>
<circle cx="431.50" cy="785.00" r="6.1"/>
<circle cx="440.25" cy="780.60" r="6.1"/>
<circle cx="440.25" cy="800.00" r="6.1"/>
<circle cx="449.00" cy="799.75" r="6.1"/>
<circle cx="449.00" cy="818.10" r="6.1"/>
<circle cx="329.60" cy="831.90" r="6.1"/>
<circle cx="334.00" cy="838.75" r="6.1"/>
<circle cx="343.00" cy="828.50" r="6.1"/>
<circle cx="347.10" cy="828.10" r="6.1"/>
<circle cx="347.10" cy="833.75" r="6.1"/>
<circle cx="356.25" cy="840.00" r="6.1"/>
<circle cx="347.10" cy="848.10" r="6.1"/>
<circle cx="356.50" cy="853.10" r="6.1"/>
<circle cx="360.90" cy="853.10" r="6.1"/>
<circle cx="334.00" cy="856.25" r="6.1"/>
<circle cx="347.10" cy="863.10" r="6.1"/>
<circle cx="338.40" cy="868.75" r="6.1"/>
<circle cx="395.25" cy="851.25" r="6.1"/>
<circle cx="400.90" cy="852.50" r="6.1"/>
<circle cx="431.50" cy="861.25" r="6.1"/>
<circle cx="435.90" cy="833.75" r="6.1"/>
<circle cx="435.90" cy="839.40" r="6.1"/>
<circle cx="444.60" cy="845.60" r="6.1"/>
<circle cx="351.50" cy="872.50" r="6.1"/>
<circle cx="361.50" cy="871.25" r="6.1"/>
<circle cx="374.00" cy="871.25" r="6.1"/>
<circle cx="382.10" cy="868.10" r="6.1"/>
<circle cx="391.50" cy="863.75" r="6.1"/>
<circle cx="395.90" cy="871.25" r="6.1"/>
<circle cx="347.10" cy="881.25" r="6.1"/>
<circle cx="360.25" cy="883.10" r="6.1"/>
<circle cx="374.00" cy="885.00" r="6.1"/>
<circle cx="382.75" cy="880.60" r="6.1"/>
<circle cx="355.90" cy="891.25" r="6.1"/>
<circle cx="335.90" cy="895.60" r="6.1"/>
<circle cx="340.25" cy="896.90" r="6.1"/>
<circle cx="356.50" cy="898.75" r="6.1"/>
<circle cx="440.25" cy="883.75" r="6.1"/>
<circle cx="449.60" cy="883.10" r="6.1"/>
<circle cx="361.00" cy="900.00" r="6.1"/>
<circle cx="354.00" cy="900.50" r="6.1"/>
<circle cx="351.50" cy="910.50" r="6.1"/>
<circle cx="391.50" cy="908.60" r="6.1"/>
<circle cx="343.00" cy="921.75" r="6.1"/>
<circle cx="347.75" cy="924.25" r="6.1"/>
<circle cx="351.50" cy="932.40" r="6.1"/>
<circle cx="387.10" cy="926.50" r="6.1"/>
<circle cx="334.00" cy="936.75" r="6.1"/>
<circle cx="338.75" cy="945.25" r="6.1"/>
<circle cx="373.75" cy="937.40" r="6.1"/>
<circle cx="365.00" cy="948.90" r="6.1"/>
<circle cx="387.10" cy="958.60" r="6.1"/>
<circle cx="395.90" cy="956.10" r="6.1"/>
<circle cx="404.60" cy="953.25" r="6.1"/>
<circle cx="373.75" cy="968.60" r="6.1"/>
<circle cx="378.00" cy="973.00" r="6.1"/>
<circle cx="369.40" cy="992.75" r="6.1"/>
<circle cx="382.75" cy="996.75" r="6.1"/>
<circle cx="338.75" cy="1006.50" r="6.1"/>
<circle cx="413.60" cy="1014.00" r="6.1"/>
<circle cx="435.90" cy="924.25" r="6.1"/>
<circle cx="444.60" cy="923.60" r="6.1"/>
<circle cx="440.25" cy="935.50" r="6.1"/>
<circle cx="444.60" cy="966.50" r="6.1"/>
<circle cx="497.00" cy="660.10" r="6.1"/>
<circle cx="568.25" cy="695.10" r="6.1"/>
<circle cx="480.10" cy="708.25" r="6.1"/>
<circle cx="488.90" cy="718.00" r="6.1"/>
<circle cx="471.40" cy="722.60" r="6.1"/>
<circle cx="476.00" cy="721.00" r="6.1"/>
<circle cx="475.75" cy="734.25" r="6.1"/>
<circle cx="480.10" cy="755.50" r="6.1"/>
<circle cx="462.60" cy="764.50" r="6.1"/>
<circle cx="462.00" cy="770.10" r="6.1"/>
<circle cx="467.00" cy="773.90" r="6.1"/>
<circle cx="480.10" cy="773.25" r="6.1"/>
<circle cx="506.40" cy="780.25" r="6.1"/>
<circle cx="523.90" cy="784.10" r="6.1"/>
<circle cx="459.50" cy="781.90" r="6.1"/>
<circle cx="455.75" cy="786.90" r="6.1"/>
<circle cx="475.75" cy="782.50" r="6.1"/>
<circle cx="479.50" cy="789.40" r="6.1"/>
<circle cx="488.25" cy="790.00" r="6.1"/>
<circle cx="479.50" cy="800.00" r="6.1"/>
<circle cx="493.25" cy="803.10" r="6.1"/>
<circle cx="493.25" cy="808.10" r="6.1"/>
<circle cx="484.50" cy="811.25" r="6.1"/>
<circle cx="458.25" cy="808.10" r="6.1"/>
<circle cx="467.00" cy="815.00" r="6.1"/>
<circle cx="457.60" cy="820.00" r="6.1"/>
<circle cx="473.25" cy="826.25" r="6.1"/>
<circle cx="474.50" cy="833.75" r="6.1"/>
<circle cx="515.10" cy="819.40" r="6.1"/>
<circle cx="511.40" cy="826.25" r="6.1"/>
<circle cx="502.00" cy="833.10" r="6.1"/>
<circle cx="515.10" cy="833.75" r="6.1"/>
<circle cx="457.60" cy="841.25" r="6.1"/>
<circle cx="465.75" cy="846.25" r="6.1"/>
<circle cx="475.10" cy="853.75" r="6.1"/>
<circle cx="453.25" cy="855.00" r="6.1"/>
<circle cx="500.75" cy="850.00" r="6.1"/>
<circle cx="497.00" cy="856.25" r="6.1"/>
<circle cx="470.75" cy="865.00" r="6.1"/>
<circle cx="458.25" cy="870.00" r="6.1"/>
<circle cx="467.00" cy="872.50" r="6.1"/>
<circle cx="469.50" cy="881.90" r="6.1"/>
<circle cx="502.00" cy="875.60" r="6.1"/>
<circle cx="502.00" cy="881.90" r="6.1"/>
<circle cx="528.25" cy="881.25" r="6.1"/>
<circle cx="510.10" cy="891.25" r="6.1"/>
<circle cx="505.75" cy="893.75" r="6.1"/>
<circle cx="510.75" cy="898.75" r="6.1"/>
<circle cx="480.10" cy="896.90" r="6.1"/>
<circle cx="458.25" cy="908.00" r="6.1"/>
<circle cx="467.00" cy="913.60" r="6.1"/>
<circle cx="457.60" cy="918.60" r="6.1"/>
<circle cx="510.75" cy="901.75" r="6.1"/>
<circle cx="493.25" cy="908.60" r="6.1"/>
<circle cx="493.25" cy="912.00" r="6.1"/>
<circle cx="497.60" cy="921.10" r="6.1"/>
<circle cx="480.10" cy="921.50" r="6.1"/>
<circle cx="475.75" cy="932.00" r="6.1"/>
<circle cx="457.60" cy="940.50" r="6.1"/>
<circle cx="453.90" cy="946.10" r="6.1"/>
<circle cx="471.40" cy="941.75" r="6.1"/>
<circle cx="475.75" cy="945.50" r="6.1"/>
<circle cx="480.10" cy="954.00" r="6.1"/>
<circle cx="493.25" cy="961.75" r="6.1"/>
<circle cx="510.75" cy="964.25" r="6.1"/>
<circle cx="502.00" cy="987.60" r="6.1"/>
<circle cx="471.40" cy="1002.75" r="6.1"/>
<circle cx="471.40" cy="1014.25" r="6.1"/>
<circle cx="462.60" cy="1024.00" r="6.1"/>
<circle cx="475.70" cy="1034.20" r="6.1"/>
<circle cx="365.00" cy="877.00" r="6.1"/>
<circle cx="371.00" cy="880.00" r="6.1"/>
<circle cx="453.90" cy="898.60" r="6.1"/>
<circle cx="453.60" cy="983.25" r="6.1"/>
<circle cx="453.60" cy="1001.40" r="6.1"/>
</g>
<polyline clip-path="url(#c3)" points="173.00,794.70 207.00,810.00 239.00,823.30 276.00,839.20 314.00,854.30 334.00,862.50 369.00,871.90 400.25,877.50 413.40,877.50 440.25,870.00 457.00,862.50 479.50,855.00 495.75,849.40 517.00,840.00 568.25,820.60" fill="none" stroke="#0000ff" stroke-width="3.0" stroke-linejoin="round"/>
<g clip-path="url(#c3)">
<text x="568.25" y="705.60" font-family="DejaVu Sans, sans-serif" font-size="28.9" text-anchor="middle">130</text>
<text x="382.75" y="666.90" font-family="DejaVu Sans, sans-serif" font-size="28.9" text-anchor="middle">131</text>
<text x="497.00" y="670.60" font-family="DejaVu Sans, sans-serif" font-size="28.9" text-anchor="middle">132</text>
</g>
<clipPath id="c4"><rect x="688.0" y="638.1" width="435.20000000000005" height="414.69999999999993"/></clipPath>
<line x1="707.20" y1="638.1" x2="707.20" y2="1052.8" stroke="#ebebeb" stroke-width="2.8"/>
<line x1="810.23" y1="638.1" x2="810.23" y2="1052.8" stroke="#ebebeb" stroke-width="2.8"/>
<line x1="913.26" y1="638.1" x2="913.26" y2="1052.8" stroke="#ebebeb" stroke-width="2.8"/>
<line x1="1016.29" y1="638.1" x2="1016.29" y2="1052.8" stroke="#ebebeb" stroke-width="2.8"/>
<line x1="1119.32" y1="638.1" x2="1119.32" y2="1052.8" stroke="#ebebeb" stroke-width="2.8"/>
<line x1="688.0" y1="689.00" x2="1123.2" y2="689.00" stroke="#ebebeb" stroke-width="2.8"/>
<line x1="688.0" y1="757.30" x2="1123.2" y2="757.30" stroke="#ebebeb" stroke-width="2.8"/>
<line x1="688.0" y1="825.60" x2="1123.2" y2="825.60" stroke="#ebebeb" stroke-width="2.8"/>
<line x1="688.0" y1="893.90" x2="1123.2" y2="893.90" stroke="#ebebeb" stroke-width="2.8"/>
<line x1="688.0" y1="962.20" x2="1123.2" y2="962.20" stroke="#ebebeb" stroke-width="2.8"/>
<line x1="688.0" y1="1030.50" x2="1123.2" y2="1030.50" stroke="#ebebeb" stroke-width="2.8"/>
<text x="707.20" y="1083.00" font-family="DejaVu Sans, sans-serif" font-size="23.47" fill="#4d4d4d" text-anchor="middle">0.00</text>
<text x="810.23" y="1083.00" font-family="DejaVu Sans, sans-serif" font-size="23.47" fill="#4d4d4d" text-anchor="middle">0.03</text>
<text x="913.26" y="1083.00" font-family="DejaVu Sans, sans-serif" font-size="23.47" fill="#4d4d4d" text-anchor="middle">0.06</text>
<text x="1016.29" y="1083.00" font-family="DejaVu Sans, sans-serif" font-size="23.47" fill="#4d4d4d" text-anchor="middle">0.09</text>
<text x="1119.32" y="1083.00" font-family="DejaVu Sans, sans-serif" font-size="23.47" fill="#4d4d4d" text-anchor="middle">0.12</text>
<text x="674.60" y="698.20" font-family="DejaVu Sans, sans-serif" font-size="23.47" fill="#4d4d4d" text-anchor="end">2</text>
<text x="674.60" y="766.50" font-family="DejaVu Sans, sans-serif" font-size="23.47" fill="#4d4d4d" text-anchor="end">1</text>
<text x="674.60" y="834.80" font-family="DejaVu Sans, sans-serif" font-size="23.47" fill="#4d4d4d" text-anchor="end">0</text>
<text x="674.60" y="903.10" font-family="DejaVu Sans, sans-serif" font-size="23.47" fill="#4d4d4d" text-anchor="end">-1</text>
<text x="674.60" y="971.40" font-family="DejaVu Sans, sans-serif" font-size="23.47" fill="#4d4d4d" text-anchor="end">-2</text>
<text x="674.60" y="1039.70" font-family="DejaVu Sans, sans-serif" font-size="23.47" fill="#4d4d4d" text-anchor="end">-3</text>
<text x="688.20" y="616.90" font-family="DejaVu Sans, sans-serif" font-weight="bold" font-size="35.2">Residuals vs Leverage</text>
<text x="905.60" y="1116.10" font-family="DejaVu Sans, sans-serif" font-weight="bold" font-size="29.33" text-anchor="middle">Leverage</text>
<text transform="translate(637.80,845.45) rotate(-90)" font-family="DejaVu Sans, sans-serif" font-weight="bold" font-size="29.33" text-anchor="middle">Standardized Residuals</text>
<g clip-path="url(#c4)" fill="#444444">
<circle cx="739.00" cy="680.60" r="6.1"/>
<circle cx="765.60" cy="682.40" r="6.1"/>
<circle cx="761.10" cy="712.30" r="6.1"/>
<circle cx="771.60" cy="717.80" r="6.1"/>
<circle cx="776.80" cy="726.70" r="6.1"/>
<circle cx="740.30" cy="724.10" r="6.1"/>
<circle cx="746.00" cy="733.40" r="6.1"/>
<circle cx="740.30" cy="740.20" r="6.1"/>
<circle cx="797.10" cy="731.90" r="6.1"/>
<circle cx="787.20" cy="736.60" r="6.1"/>
<circle cx="825.40" cy="731.70" r="6.1"/>
<circle cx="751.25" cy="745.90" r="6.1"/>
<circle cx="757.50" cy="744.40" r="6.1"/>
<circle cx="765.80" cy="738.60" r="6.1"/>
<circle cx="758.00" cy="749.10" r="6.1"/>
<circle cx="775.20" cy="742.30" r="6.1"/>
<circle cx="778.30" cy="744.90" r="6.1"/>
<circle cx="740.30" cy="751.70" r="6.1"/>
<circle cx="746.00" cy="755.80" r="6.1"/>
<circle cx="738.75" cy="759.00" r="6.1"/>
<circle cx="738.75" cy="764.20" r="6.1"/>
<circle cx="761.10" cy="760.00" r="6.1"/>
<circle cx="766.90" cy="763.10" r="6.1"/>
<circle cx="786.70" cy="759.00" r="6.1"/>
<circle cx="786.70" cy="762.60" r="6.1"/>
<circle cx="797.90" cy="755.30" r="6.1"/>
<circle cx="808.50" cy="774.10" r="6.1"/>
<circle cx="738.75" cy="774.60" r="6.1"/>
<circle cx="751.25" cy="773.50" r="6.1"/>
<circle cx="765.80" cy="772.50" r="6.1"/>
<circle cx="797.30" cy="783.70" r="6.1"/>
<circle cx="786.80" cy="798.40" r="6.1"/>
<circle cx="797.30" cy="814.00" r="6.1"/>
<circle cx="786.00" cy="834.90" r="6.1"/>
<circle cx="807.70" cy="848.80" r="6.1"/>
<circle cx="784.20" cy="846.20" r="6.1"/>
<circle cx="786.00" cy="858.75" r="6.1"/>
<circle cx="776.40" cy="857.00" r="6.1"/>
<circle cx="740.80" cy="867.20" r="6.1"/>
<circle cx="778.30" cy="857.30" r="6.1"/>
<circle cx="787.70" cy="871.40" r="6.1"/>
<circle cx="797.10" cy="872.40" r="6.1"/>
<circle cx="797.60" cy="878.10" r="6.1"/>
<circle cx="798.10" cy="888.00" r="6.1"/>
<circle cx="778.30" cy="885.40" r="6.1"/>
<circle cx="785.10" cy="886.50" r="6.1"/>
<circle cx="765.80" cy="881.25" r="6.1"/>
<circle cx="754.40" cy="863.50" r="6.1"/>
<circle cx="763.75" cy="862.50" r="6.1"/>
<circle cx="754.40" cy="874.00" r="6.1"/>
<circle cx="761.70" cy="875.00" r="6.1"/>
<circle cx="772.00" cy="870.80" r="6.1"/>
<circle cx="746.00" cy="882.30" r="6.1"/>
<circle cx="737.70" cy="890.10" r="6.1"/>
<circle cx="765.80" cy="891.10" r="6.1"/>
<circle cx="758.50" cy="897.90" r="6.1"/>
<circle cx="741.90" cy="900.00" r="6.1"/>
<circle cx="743.00" cy="904.00" r="6.1"/>
<circle cx="739.80" cy="908.30" r="6.1"/>
<circle cx="765.80" cy="910.40" r="6.1"/>
<circle cx="760.00" cy="908.00" r="6.1"/>
<circle cx="751.25" cy="916.70" r="6.1"/>
<circle cx="745.00" cy="913.00" r="6.1"/>
<circle cx="738.75" cy="921.90" r="6.1"/>
<circle cx="741.90" cy="928.10" r="6.1"/>
<circle cx="742.40" cy="934.40" r="6.1"/>
<circle cx="740.30" cy="942.70" r="6.1"/>
<circle cx="738.75" cy="959.40" r="6.1"/>
<circle cx="738.75" cy="967.70" r="6.1"/>
<circle cx="774.70" cy="932.80" r="6.1"/>
<circle cx="808.50" cy="931.25" r="6.1"/>
<circle cx="747.40" cy="974.00" r="6.1"/>
<circle cx="740.10" cy="983.10" r="6.1"/>
<circle cx="758.60" cy="1031.25" r="6.1"/>
<circle cx="771.90" cy="1034.20" r="6.1"/>
<circle cx="841.10" cy="788.90" r="6.1"/>
<circle cx="849.60" cy="824.40" r="6.1"/>
<circle cx="841.10" cy="863.75" r="6.1"/>
<circle cx="1040.90" cy="656.70" r="6.1"/>
<circle cx="1027.50" cy="682.30" r="6.1"/>
<circle cx="1027.50" cy="695.30" r="6.1"/>
<circle cx="1008.60" cy="714.00" r="6.1"/>
<circle cx="1007.10" cy="780.00" r="6.1"/>
<circle cx="1007.10" cy="814.90" r="6.1"/>
<circle cx="1020.80" cy="811.60" r="6.1"/>
<circle cx="1030.80" cy="835.30" r="6.1"/>
<circle cx="1011.90" cy="850.70" r="6.1"/>
<circle cx="1020.80" cy="882.90" r="6.1"/>
<circle cx="1006.70" cy="920.00" r="6.1"/>
<circle cx="1008.60" cy="961.50" r="6.1"/>
<circle cx="1102.40" cy="965.75" r="6.1"/>
<circle cx="778.60" cy="806.00" r="6.1"/>
<circle cx="778.60" cy="811.50" r="6.1"/>
<circle cx="774.00" cy="781.00" r="6.1"/>
<circle cx="774.00" cy="787.00" r="6.1"/>
<circle cx="774.50" cy="729.50" r="6.1"/>
<circle cx="766.50" cy="768.50" r="6.1"/>
<circle cx="739.00" cy="771.00" r="6.1"/>
<circle cx="739.00" cy="773.50" r="6.1"/>
<circle cx="741.50" cy="773.50" r="6.1"/>
<circle cx="739.00" cy="776.00" r="6.1"/>
<circle cx="741.50" cy="776.00" r="6.1"/>
<circle cx="744.00" cy="776.00" r="6.1"/>
<circle cx="746.50" cy="776.00" r="6.1"/>
<circle cx="749.00" cy="776.00" r="6.1"/>
<circle cx="751.50" cy="776.00" r="6.1"/>
<circle cx="761.50" cy="776.00" r="6.1"/>
<circle cx="764.00" cy="776.00" r="6.1"/>
<circle cx="739.00" cy="778.50" r="6.1"/>
<circle cx="741.50" cy="778.50" r="6.1"/>
<circle cx="744.00" cy="778.50" r="6.1"/>
<circle cx="746.50" cy="778.50" r="6.1"/>
<circle cx="749.00" cy="778.50" r="6.1"/>
<circle cx="751.50" cy="778.50" r="6.1"/>
<circle cx="754.00" cy="778.50" r="6.1"/>
<circle cx="756.50" cy="778.50" r="6.1"/>
<circle cx="759.00" cy="778.50" r="6.1"/>
<circle cx="761.50" cy="778.50" r="6.1"/>
<circle cx="764.00" cy="778.50" r="6.1"/>
<circle cx="766.50" cy="778.50" r="6.1"/>
<circle cx="769.00" cy="778.50" r="6.1"/>
<circle cx="771.50" cy="778.50" r="6.1"/>
<circle cx="739.00" cy="781.00" r="6.1"/>
<circle cx="741.50" cy="781.00" r="6.1"/>
<circle cx="744.00" cy="781.00" r="6.1"/>
<circle cx="746.50" cy="781.00" r="6.1"/>
<circle cx="749.00" cy="781.00" r="6.1"/>
<circle cx="751.50" cy="781.00" r="6.1"/>
<circle cx="754.00" cy="781.00" r="6.1"/>
<circle cx="756.50" cy="781.00" r="6.1"/>
<circle cx="759.00" cy="781.00" r="6.1"/>
<circle cx="761.50" cy="781.00" r="6.1"/>
<circle cx="764.00" cy="781.00" r="6.1"/>
<circle cx="766.50" cy="781.00" r="6.1"/>
<circle cx="769.00" cy="781.00" r="6.1"/>
<circle cx="771.50" cy="781.00" r="6.1"/>
<circle cx="739.00" cy="783.50" r="6.1"/>
<circle cx="741.50" cy="783.50" r="6.1"/>
<circle cx="754.00" cy="783.50" r="6.1"/>
<circle cx="756.50" cy="783.50" r="6.1"/>
<circle cx="759.00" cy="783.50" r="6.1"/>
<circle cx="761.50" cy="783.50" r="6.1"/>
<circle cx="764.00" cy="783.50" r="6.1"/>
<circle cx="766.50" cy="783.50" r="6.1"/>
<circle cx="769.00" cy="783.50" r="6.1"/>
<circle cx="771.50" cy="783.50" r="6.1"/>
<circle cx="739.00" cy="786.00" r="6.1"/>
<circle cx="756.50" cy="786.00" r="6.1"/>
<circle cx="759.00" cy="786.00" r="6.1"/>
<circle cx="761.50" cy="786.00" r="6.1"/>
<circle cx="764.00" cy="786.00" r="6.1"/>
<circle cx="766.50" cy="786.00" r="6.1"/>
<circle cx="769.00" cy="786.00" r="6.1"/>
<circle cx="771.50" cy="786.00" r="6.1"/>
<circle cx="739.00" cy="788.50" r="6.1"/>
<circle cx="756.50" cy="788.50" r="6.1"/>
<circle cx="759.00" cy="788.50" r="6.1"/>
<circle cx="761.50" cy="788.50" r="6.1"/>
<circle cx="764.00" cy="788.50" r="6.1"/>
<circle cx="766.50" cy="788.50" r="6.1"/>
<circle cx="769.00" cy="788.50" r="6.1"/>
<circle cx="771.50" cy="788.50" r="6.1"/>
<circle cx="739.00" cy="791.00" r="6.1"/>
<circle cx="756.50" cy="791.00" r="6.1"/>
<circle cx="769.00" cy="791.00" r="6.1"/>
<circle cx="771.50" cy="791.00" r="6.1"/>
<circle cx="739.00" cy="793.50" r="6.1"/>
<circle cx="756.50" cy="793.50" r="6.1"/>
<circle cx="771.50" cy="793.50" r="6.1"/>
<circle cx="739.00" cy="796.00" r="6.1"/>
<circle cx="741.50" cy="796.00" r="6.1"/>
<circle cx="754.00" cy="796.00" r="6.1"/>
<circle cx="771.50" cy="796.00" r="6.1"/>
<circle cx="739.00" cy="798.50" r="6.1"/>
<circle cx="741.50" cy="798.50" r="6.1"/>
<circle cx="744.00" cy="798.50" r="6.1"/>
<circle cx="746.50" cy="798.50" r="6.1"/>
<circle cx="751.50" cy="798.50" r="6.1"/>
<circle cx="754.00" cy="798.50" r="6.1"/>
<circle cx="756.50" cy="798.50" r="6.1"/>
<circle cx="771.50" cy="798.50" r="6.1"/>
<circle cx="739.00" cy="801.00" r="6.1"/>
<circle cx="741.50" cy="801.00" r="6.1"/>
<circle cx="744.00" cy="801.00" r="6.1"/>
<circle cx="746.50" cy="801.00" r="6.1"/>
<circle cx="749.00" cy="801.00" r="6.1"/>
<circle cx="751.50" cy="801.00" r="6.1"/>
<circle cx="754.00" cy="801.00" r="6.1"/>
<circle cx="756.50" cy="801.00" r="6.1"/>
<circle cx="769.00" cy="801.00" r="6.1"/>
<circle cx="771.50" cy="801.00" r="6.1"/>
<circle cx="739.00" cy="803.50" r="6.1"/>
<circle cx="741.50" cy="803.50" r="6.1"/>
<circle cx="744.00" cy="803.50" r="6.1"/>
<circle cx="746.50" cy="803.50" r="6.1"/>
<circle cx="749.00" cy="803.50" r="6.1"/>
<circle cx="751.50" cy="803.50" r="6.1"/>
<circle cx="754.00" cy="803.50" r="6.1"/>
<circle cx="756.50" cy="803.50" r="6.1"/>
<circle cx="759.00" cy="803.50" r="6.1"/>
<circle cx="761.50" cy="803.50" r="6.1"/>
<circle cx="764.00" cy="803.50" r="6.1"/>
<circle cx="766.50" cy="803.50" r="6.1"/>
<circle cx="769.00" cy="803.50" r="6.1"/>
<circle cx="771.50" cy="803.50" r="6.1"/>
<circle cx="774.00" cy="803.50" r="6.1"/>
<circle cx="776.50" cy="803.50" r="6.1"/>
<circle cx="739.00" cy="806.00" r="6.1"/>
<circle cx="741.50" cy="806.00" r="6.1"/>
<circle cx="744.00" cy="806.00" r="6.1"/>
<circle cx="746.50" cy="806.00" r="6.1"/>
<circle cx="749.00" cy="806.00" r="6.1"/>
<circle cx="751.50" cy="806.00" r="6.1"/>
<circle cx="754.00" cy="806.00" r="6.1"/>
<circle cx="756.50" cy="806.00" r="6.1"/>
<circle cx="759.00" cy="806.00" r="6.1"/>
<circle cx="761.50" cy="806.00" r="6.1"/>
<circle cx="764.00" cy="806.00" r="6.1"/>
<circle cx="766.50" cy="806.00" r="6.1"/>
<circle cx="769.00" cy="806.00" r="6.1"/>
<circle cx="771.50" cy="806.00" r="6.1"/>
<circle cx="774.00" cy="806.00" r="6.1"/>
<circle cx="776.50" cy="806.00" r="6.1"/>
<circle cx="739.00" cy="808.50" r="6.1"/>
<circle cx="741.50" cy="808.50" r="6.1"/>
<circle cx="744.00" cy="808.50" r="6.1"/>
<circle cx="746.50" cy="808.50" r="6.1"/>
<circle cx="749.00" cy="808.50" r="6.1"/>
<circle cx="751.50" cy="808.50" r="6.1"/>
<circle cx="754.00" cy="808.50" r="6.1"/>
<circle cx="756.50" cy="808.50" r="6.1"/>
<circle cx="759.00" cy="808.50" r="6.1"/>
<circle cx="761.50" cy="808.50" r="6.1"/>
<circle cx="764.00" cy="808.50" r="6.1"/>
<circle cx="766.50" cy="808.50" r="6.1"/>
<circle cx="769.00" cy="808.50" r="6.1"/>
<circle cx="771.50" cy="808.50" r="6.1"/>
<circle cx="774.00" cy="808.50" r="6.1"/>
<circle cx="776.50" cy="808.50" r="6.1"/>
<circle cx="739.00" cy="811.00" r="6.1"/>
<circle cx="749.00" cy="811.00" r="6.1"/>
<circle cx="751.50" cy="811.00" r="6.1"/>
<circle cx="754.00" cy="811.00" r="6.1"/>
<circle cx="756.50" cy="811.00" r="6.1"/>
<circle cx="759.00" cy="811.00" r="6.1"/>
<circle cx="761.50" cy="811.00" r="6.1"/>
<circle cx="764.00" cy="811.00" r="6.1"/>
<circle cx="766.50" cy="811.00" r="6.1"/>
<circle cx="769.00" cy="811.00" r="6.1"/>
<circle cx="771.50" cy="811.00" r="6.1"/>
<circle cx="774.00" cy="811.00" r="6.1"/>
<circle cx="776.50" cy="811.00" r="6.1"/>
<circle cx="751.50" cy="813.50" r="6.1"/>
<circle cx="754.00" cy="813.50" r="6.1"/>
<circle cx="756.50" cy="813.50" r="6.1"/>
<circle cx="759.00" cy="813.50" r="6.1"/>
<circle cx="761.50" cy="813.50" r="6.1"/>
<circle cx="764.00" cy="813.50" r="6.1"/>
<circle cx="766.50" cy="813.50" r="6.1"/>
<circle cx="769.00" cy="813.50" r="6.1"/>
<circle cx="771.50" cy="813.50" r="6.1"/>
<circle cx="774.00" cy="813.50" r="6.1"/>
<circle cx="776.50" cy="813.50" r="6.1"/>
<circle cx="751.50" cy="816.00" r="6.1"/>
<circle cx="754.00" cy="816.00" r="6.1"/>
<circle cx="756.50" cy="816.00" r="6.1"/>
<circle cx="759.00" cy="816.00" r="6.1"/>
<circle cx="761.50" cy="816.00" r="6.1"/>
<circle cx="764.00" cy="816.00" r="6.1"/>
<circle cx="766.50" cy="816.00" r="6.1"/>
<circle cx="769.00" cy="816.00" r="6.1"/>
<circle cx="771.50" cy="816.00" r="6.1"/>
<circle cx="774.00" cy="816.00" r="6.1"/>
<circle cx="776.50" cy="816.00" r="6.1"/>
<circle cx="754.00" cy="818.50" r="6.1"/>
<circle cx="756.50" cy="818.50" r="6.1"/>
<circle cx="759.00" cy="818.50" r="6.1"/>
<circle cx="761.50" cy="818.50" r="6.1"/>
<circle cx="764.00" cy="818.50" r="6.1"/>
<circle cx="766.50" cy="818.50" r="6.1"/>
<circle cx="769.00" cy="818.50" r="6.1"/>
<circle cx="771.50" cy="818.50" r="6.1"/>
<circle cx="751.50" cy="821.00" r="6.1"/>
<circle cx="754.00" cy="821.00" r="6.1"/>
<circle cx="756.50" cy="821.00" r="6.1"/>
<circle cx="759.00" cy="821.00" r="6.1"/>
<circle cx="761.50" cy="821.00" r="6.1"/>
<circle cx="764.00" cy="821.00" r="6.1"/>
<circle cx="766.50" cy="821.00" r="6.1"/>
<circle cx="769.00" cy="821.00" r="6.1"/>
<circle cx="771.50" cy="821.00" r="6.1"/>
<circle cx="751.50" cy="823.50" r="6.1"/>
<circle cx="754.00" cy="823.50" r="6.1"/>
<circle cx="756.50" cy="823.50" r="6.1"/>
<circle cx="759.00" cy="823.50" r="6.1"/>
<circle cx="761.50" cy="823.50" r="6.1"/>
<circle cx="764.00" cy="823.50" r="6.1"/>
<circle cx="766.50" cy="823.50" r="6.1"/>
<circle cx="769.00" cy="823.50" r="6.1"/>
<circle cx="771.50" cy="823.50" r="6.1"/>
<circle cx="739.00" cy="826.00" r="6.1"/>
<circle cx="741.50" cy="826.00" r="6.1"/>
<circle cx="744.00" cy="826.00" r="6.1"/>
<circle cx="756.50" cy="826.00" r="6.1"/>
<circle cx="759.00" cy="826.00" r="6.1"/>
<circle cx="761.50" cy="826.00" r="6.1"/>
<circle cx="764.00" cy="826.00" r="6.1"/>
<circle cx="766.50" cy="826.00" r="6.1"/>
<circle cx="769.00" cy="826.00" r="6.1"/>
<circle cx="771.50" cy="826.00" r="6.1"/>
<circle cx="739.00" cy="828.50" r="6.1"/>
<circle cx="741.50" cy="828.50" r="6.1"/>
<circle cx="761.50" cy="828.50" r="6.1"/>
<circle cx="764.00" cy="828.50" r="6.1"/>
<circle cx="766.50" cy="828.50" r="6.1"/>
<circle cx="769.00" cy="828.50" r="6.1"/>
<circle cx="771.50" cy="828.50" r="6.1"/>
<circle cx="739.00" cy="831.00" r="6.1"/>
<circle cx="764.00" cy="831.00" r="6.1"/>
<circle cx="766.50" cy="831.00" r="6.1"/>
<circle cx="769.00" cy="831.00" r="6.1"/>
<circle cx="771.50" cy="831.00" r="6.1"/>
<circle cx="739.00" cy="833.50" r="6.1"/>
<circle cx="764.00" cy="833.50" r="6.1"/>
<circle cx="766.50" cy="833.50" r="6.1"/>
<circle cx="769.00" cy="833.50" r="6.1"/>
<circle cx="771.50" cy="833.50" r="6.1"/>
<circle cx="739.00" cy="836.00" r="6.1"/>
<circle cx="764.00" cy="836.00" r="6.1"/>
<circle cx="766.50" cy="836.00" r="6.1"/>
<circle cx="769.00" cy="836.00" r="6.1"/>
<circle cx="771.50" cy="836.00" r="6.1"/>
<circle cx="774.00" cy="836.00" r="6.1"/>
<circle cx="776.50" cy="836.00" r="6.1"/>
<circle cx="779.00" cy="836.00" r="6.1"/>
<circle cx="781.50" cy="836.00" r="6.1"/>
<circle cx="739.00" cy="838.50" r="6.1"/>
<circle cx="764.00" cy="838.50" r="6.1"/>
<circle cx="766.50" cy="838.50" r="6.1"/>
<circle cx="769.00" cy="838.50" r="6.1"/>
<circle cx="771.50" cy="838.50" r="6.1"/>
<circle cx="774.00" cy="838.50" r="6.1"/>
<circle cx="776.50" cy="838.50" r="6.1"/>
<circle cx="779.00" cy="838.50" r="6.1"/>
<circle cx="781.50" cy="838.50" r="6.1"/>
<circle cx="739.00" cy="841.00" r="6.1"/>
<circle cx="764.00" cy="841.00" r="6.1"/>
<circle cx="766.50" cy="841.00" r="6.1"/>
<circle cx="769.00" cy="841.00" r="6.1"/>
<circle cx="771.50" cy="841.00" r="6.1"/>
<circle cx="774.00" cy="841.00" r="6.1"/>
<circle cx="776.50" cy="841.00" r="6.1"/>
<circle cx="779.00" cy="841.00" r="6.1"/>
<circle cx="781.50" cy="841.00" r="6.1"/>
<circle cx="739.00" cy="843.50" r="6.1"/>
<circle cx="774.00" cy="843.50" r="6.1"/>
<circle cx="776.50" cy="843.50" r="6.1"/>
<circle cx="779.00" cy="843.50" r="6.1"/>
<circle cx="781.50" cy="843.50" r="6.1"/>
<circle cx="784.00" cy="843.50" r="6.1"/>
<circle cx="739.00" cy="846.00" r="6.1"/>
<circle cx="741.50" cy="846.00" r="6.1"/>
<circle cx="776.50" cy="846.00" r="6.1"/>
<circle cx="779.00" cy="846.00" r="6.1"/>
<circle cx="781.50" cy="846.00" r="6.1"/>
<circle cx="739.00" cy="848.50" r="6.1"/>
<circle cx="741.50" cy="848.50" r="6.1"/>
<circle cx="744.00" cy="848.50" r="6.1"/>
<circle cx="746.50" cy="848.50" r="6.1"/>
<circle cx="756.50" cy="848.50" r="6.1"/>
<circle cx="779.00" cy="848.50" r="6.1"/>
<circle cx="781.50" cy="848.50" r="6.1"/>
<circle cx="784.00" cy="848.50" r="6.1"/>
<circle cx="739.00" cy="851.00" r="6.1"/>
<circle cx="741.50" cy="851.00" r="6.1"/>
<circle cx="744.00" cy="851.00" r="6.1"/>
<circle cx="746.50" cy="851.00" r="6.1"/>
<circle cx="749.00" cy="851.00" r="6.1"/>
<circle cx="751.50" cy="851.00" r="6.1"/>
<circle cx="754.00" cy="851.00" r="6.1"/>
<circle cx="779.00" cy="851.00" r="6.1"/>
<circle cx="781.50" cy="851.00" r="6.1"/>
<circle cx="784.00" cy="851.00" r="6.1"/>
<circle cx="739.00" cy="853.50" r="6.1"/>
<circle cx="741.50" cy="853.50" r="6.1"/>
<circle cx="744.00" cy="853.50" r="6.1"/>
<circle cx="746.50" cy="853.50" r="6.1"/>
<circle cx="749.00" cy="853.50" r="6.1"/>
<circle cx="751.50" cy="853.50" r="6.1"/>
<circle cx="754.00" cy="853.50" r="6.1"/>
<circle cx="779.00" cy="853.50" r="6.1"/>
<circle cx="781.50" cy="853.50" r="6.1"/>
<circle cx="784.00" cy="853.50" r="6.1"/>
<circle cx="739.00" cy="856.00" r="6.1"/>
<circle cx="741.50" cy="856.00" r="6.1"/>
<circle cx="744.00" cy="856.00" r="6.1"/>
<circle cx="746.50" cy="856.00" r="6.1"/>
<circle cx="749.00" cy="856.00" r="6.1"/>
<circle cx="751.50" cy="856.00" r="6.1"/>
<circle cx="754.00" cy="856.00" r="6.1"/>
<circle cx="756.50" cy="856.00" r="6.1"/>
<circle cx="779.00" cy="856.00" r="6.1"/>
<circle cx="781.50" cy="856.00" r="6.1"/>
<circle cx="784.00" cy="856.00" r="6.1"/>
<circle cx="739.00" cy="858.50" r="6.1"/>
<circle cx="741.50" cy="858.50" r="6.1"/>
<circle cx="744.00" cy="858.50" r="6.1"/>
<circle cx="746.50" cy="858.50" r="6.1"/>
<circle cx="749.00" cy="858.50" r="6.1"/>
<circle cx="751.50" cy="858.50" r="6.1"/>
<circle cx="754.00" cy="858.50" r="6.1"/>
<circle cx="756.50" cy="858.50" r="6.1"/>
<circle cx="776.50" cy="858.50" r="6.1"/>
<circle cx="779.00" cy="858.50" r="6.1"/>
<circle cx="781.50" cy="858.50" r="6.1"/>
<circle cx="784.00" cy="858.50" r="6.1"/>
<circle cx="739.00" cy="861.00" r="6.1"/>
<circle cx="741.50" cy="861.00" r="6.1"/>
<circle cx="744.00" cy="861.00" r="6.1"/>
<circle cx="746.50" cy="861.00" r="6.1"/>
<circle cx="749.00" cy="861.00" r="6.1"/>
<circle cx="751.50" cy="861.00" r="6.1"/>
<circle cx="754.00" cy="861.00" r="6.1"/>
<circle cx="756.50" cy="861.00" r="6.1"/>
<circle cx="759.00" cy="861.00" r="6.1"/>
<circle cx="774.00" cy="861.00" r="6.1"/>
<circle cx="776.50" cy="861.00" r="6.1"/>
<circle cx="779.00" cy="861.00" r="6.1"/>
<circle cx="781.50" cy="861.00" r="6.1"/>
<circle cx="784.00" cy="861.00" r="6.1"/>
<circle cx="739.00" cy="863.50" r="6.1"/>
<circle cx="741.50" cy="863.50" r="6.1"/>
<circle cx="744.00" cy="863.50" r="6.1"/>
<circle cx="746.50" cy="863.50" r="6.1"/>
<circle cx="749.00" cy="863.50" r="6.1"/>
<circle cx="751.50" cy="863.50" r="6.1"/>
<circle cx="756.50" cy="863.50" r="6.1"/>
<circle cx="759.00" cy="863.50" r="6.1"/>
<circle cx="761.50" cy="863.50" r="6.1"/>
<circle cx="764.00" cy="863.50" r="6.1"/>
<circle cx="766.50" cy="863.50" r="6.1"/>
<circle cx="769.00" cy="863.50" r="6.1"/>
<circle cx="771.50" cy="863.50" r="6.1"/>
<circle cx="774.00" cy="863.50" r="6.1"/>
<circle cx="776.50" cy="863.50" r="6.1"/>
<circle cx="779.00" cy="863.50" r="6.1"/>
<circle cx="781.50" cy="863.50" r="6.1"/>
<circle cx="784.00" cy="863.50" r="6.1"/>
<circle cx="739.00" cy="866.00" r="6.1"/>
<circle cx="741.50" cy="866.00" r="6.1"/>
<circle cx="744.00" cy="866.00" r="6.1"/>
<circle cx="746.50" cy="866.00" r="6.1"/>
<circle cx="749.00" cy="866.00" r="6.1"/>
<circle cx="751.50" cy="866.00" r="6.1"/>
<circle cx="754.00" cy="866.00" r="6.1"/>
<circle cx="756.50" cy="866.00" r="6.1"/>
<circle cx="759.00" cy="866.00" r="6.1"/>
<circle cx="761.50" cy="866.00" r="6.1"/>
<circle cx="764.00" cy="866.00" r="6.1"/>
<circle cx="766.50" cy="866.00" r="6.1"/>
<circle cx="769.00" cy="866.00" r="6.1"/>
<circle cx="771.50" cy="866.00" r="6.1"/>
<circle cx="774.00" cy="866.00" r="6.1"/>
<circle cx="776.50" cy="866.00" r="6.1"/>
<circle cx="779.00" cy="866.00" r="6.1"/>
<circle cx="781.50" cy="866.00" r="6.1"/>
<circle cx="784.00" cy="866.00" r="6.1"/>
</g>
<line clip-path="url(#c4)" x1="688.00" y1="825.60" x2="1123.20" y2="825.60" stroke="#999999" stroke-width="1.4" stroke-dasharray="4.7 4.33" stroke-dashoffset="0"/>
<polyline clip-path="url(#c4)" points="738.70,824.00 746.00,827.50 754.70,831.00 760.00,826.00 765.10,821.40 772.00,819.00 779.00,818.00 787.70,820.60 798.10,817.10 809.20,816.00 826.90,816.60 848.75,815.00 900.00,815.00 980.00,815.20 1015.20,815.80 1045.10,817.80 1103.00,820.60" fill="none" stroke="#0000ff" stroke-width="3.0" stroke-linejoin="round"/>
<g clip-path="url(#c4)">
<text x="1040.90" y="667.20" font-family="DejaVu Sans, sans-serif" font-size="28.9" text-anchor="middle">130</text>
<text x="1027.50" y="692.80" font-family="DejaVu Sans, sans-serif" font-size="28.9" text-anchor="middle">102</text>
<text x="1102.40" y="976.25" font-family="DejaVu Sans, sans-serif" font-size="28.9" text-anchor="middle">133</text>
</g></svg></body></html>
